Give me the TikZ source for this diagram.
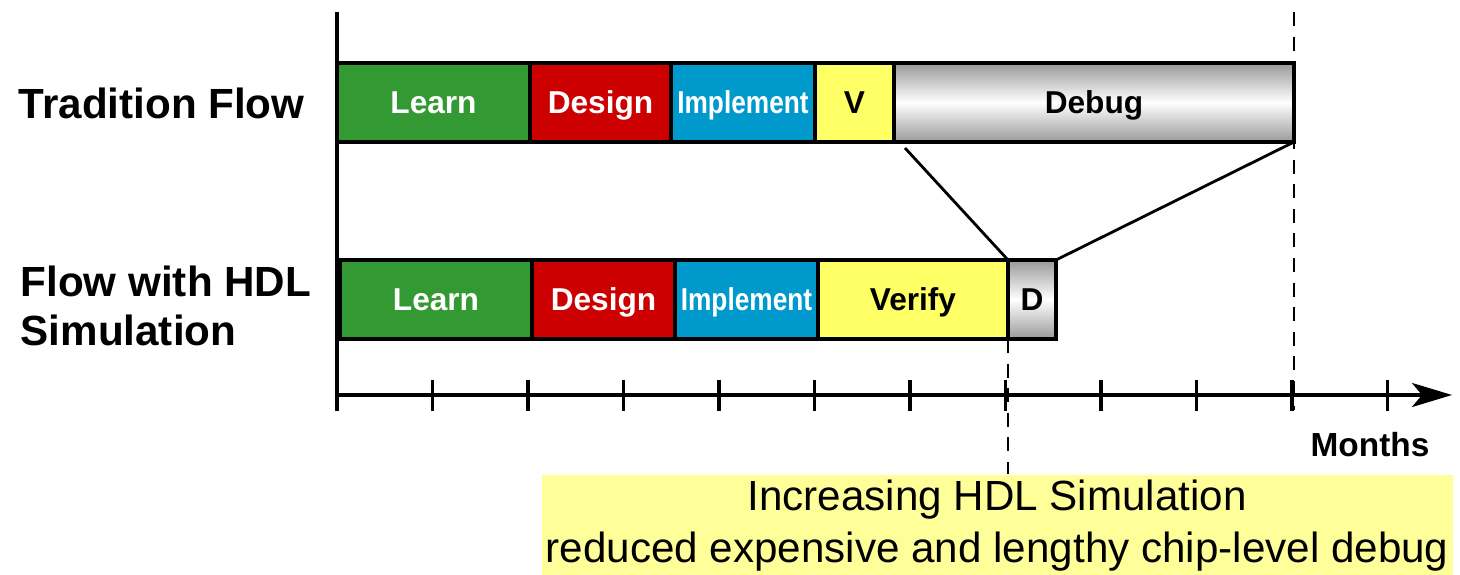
\documentclass[tikz,border=0pt]{standalone}
\usepackage{fontspec}
\setmainfont{Liberation Sans}
\usepackage{tikz}
\usetikzlibrary{arrows.meta, positioning, calc}
\definecolor{learngreen}{RGB}{51,153,51}
\definecolor{designred}{RGB}{204,0,0}
\definecolor{implblue}{RGB}{0,153,204}
\definecolor{verifyyellow}{RGB}{255,255,102}
\definecolor{noteyellow}{RGB}{255,255,153}

\begin{document}
\begin{tikzpicture}[
  stage/.style={draw, line width=1pt, minimum height=0.79cm, inner sep=0pt, outer sep=0pt,
    text height=6.4pt, text depth=0pt, font=\bfseries\fontsize{9}{10}\selectfont},
  debugfill/.style={top color=gray!80, bottom color=gray!80, middle color=white},
  flowlabel/.style={font=\bfseries\fontsize{12}{13.7}\selectfont, anchor=west, align=left, inner sep=0pt},
  timeline/.style={line width=1pt}
]
  \useasboundingbox (0,0) rectangle (14.6,-5.75);
  % left labels
  \node[flowlabel] (tradlabel) at (0.18,-1.03) {Tradition Flow};
  \node[flowlabel] (hdllabel) at (0.20,-3.06) {Flow with HDL\\Simulation};
  % traditional flow
  \node[stage, fill=learngreen, text=white, minimum width=1.93cm, anchor=west] (learnA) at (3.37,-1.025) {Learn};
  \node[stage, fill=designred, text=white, minimum width=1.41cm, right=0pt of learnA] (designA) {Design};
  \node[stage, fill=implblue, text=white, minimum width=1.44cm, right=0pt of designA] (implA) {\scalebox{0.83}[1]{Implement}};
  \node[stage, fill=verifyyellow, minimum width=0.79cm, right=0pt of implA] (verA) {V};
  \node[stage, debugfill, minimum width=4.00cm, right=0pt of verA] (debugA) {Debug};
  % flow with simulation
  \node[stage, fill=learngreen, text=white, minimum width=1.92cm, anchor=west] (learnB) at (3.40,-2.995) {Learn};
  \node[stage, fill=designred, text=white, minimum width=1.43cm, right=0pt of learnB] (designB) {Design};
  \node[stage, fill=implblue, text=white, minimum width=1.43cm, right=0pt of designB] (implB) {\scalebox{0.83}[1]{Implement}};
  \node[stage, fill=verifyyellow, minimum width=1.90cm, right=0pt of implB] (verB) {Verify};
  \node[stage, debugfill, minimum width=0.48cm, right=0pt of verB] (debugB) {D};
  % zoom lines
  \draw[line width=0.8pt] ($(debugA.south west)+(0.11,-0.06)$) -- (debugB.north west);
  \draw[line width=0.8pt] (debugA.south east) -- (debugB.north east);
  % time axis
  \coordinate (origin) at (3.37,-3.95);
  \draw[timeline] (3.37,-0.12) -- (origin);
  \draw[timeline, -{Stealth[length=4mm, width=2.4mm, inset=1mm]}] (origin) -- (14.52,-3.95);
  \foreach \i in {0,...,11}
    \draw[timeline] ($(origin)+(\i*0.955,0.15)$) -- ++(0,-0.31);
  \node[font=\bfseries\fontsize{9.5}{11}\selectfont] (months) at (13.70,-4.45) {Months};
  % note
  \node[fill=noteyellow, minimum width=9.11cm, minimum height=1.01cm, anchor=north west, inner sep=0pt,
    align=center, font=\fontsize{12}{14.8}\selectfont] (note) at (5.41,-4.74)
    {Increasing HDL Simulation\\reduced expensive and lengthy chip-level debug};
  \draw[line width=0.8pt, dash pattern=on 4pt off 3pt] (debugA.north east |- 0,-0.12) -- (debugA.north east |- origin) -- ++(0,-0.15);
  \draw[line width=0.8pt, dash pattern=on 4pt off 3pt] (debugB.south west) -- (debugB.south west |- note.north);
\end{tikzpicture}
\end{document}
